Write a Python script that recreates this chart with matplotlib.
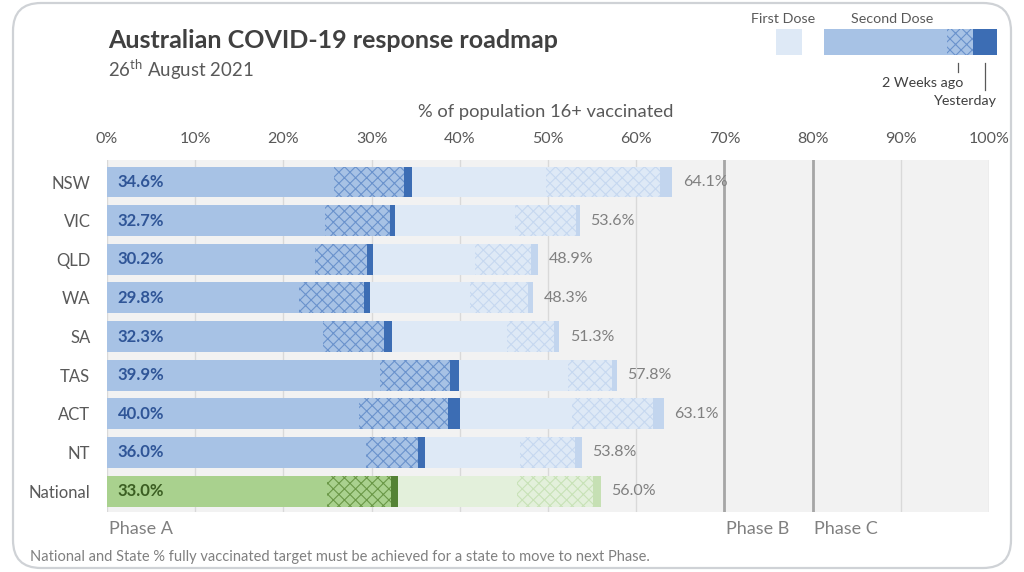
import matplotlib
matplotlib.use("Agg")
import matplotlib.pyplot as plt
from matplotlib.patches import Rectangle, FancyBboxPatch

plt.rcParams['font.family'] = ['Lato', 'DejaVu Sans']
plt.rcParams['mathtext.fontset'] = 'custom'
plt.rcParams['mathtext.rm'] = 'Lato'
plt.rcParams['hatch.linewidth'] = 0.8

# data (% of population 16+)
states = ['NSW', 'VIC', 'QLD', 'WA', 'SA', 'TAS', 'ACT', 'NT', 'National']
second_2wk = [25.7, 24.7, 23.6, 21.8, 24.5, 30.9, 28.6, 29.4, 24.9]
second_yday = [33.7, 32.1, 29.5, 29.1, 31.4, 38.9, 38.7, 35.3, 32.2]
second_now = [34.6, 32.7, 30.2, 29.8, 32.3, 39.9, 40.0, 36.0, 33.0]
first_2wk = [49.8, 46.3, 41.7, 41.2, 45.3, 52.3, 52.7, 46.8, 46.5]
first_yday = [62.7, 53.2, 48.1, 47.7, 50.7, 57.3, 61.9, 53.1, 55.1]
first_now = [64.1, 53.6, 48.9, 48.3, 51.3, 57.8, 63.1, 53.8, 56.0]
xticks = [0, 10, 20, 30, 40, 50, 60, 70, 80, 90, 100]
phases = [('Phase A', 0), ('Phase B', 70), ('Phase C', 80)]

blue = dict(s_base='#a7c2e5', s_hatch='#6a92cc', s_dark='#3c6db4',
            f_base='#dee9f6', f_hatch='#c6d8f0', f_seg='#c2d5ee', txt='#2f5597')
green = dict(s_base='#a9d18e', s_hatch='#6a9847', s_dark='#548235',
             f_base='#e3f0db', f_hatch='#c8e2b7', f_seg='#c6e0b4', txt='#3b5e22')

W, H = 1024, 572
fig = plt.figure(figsize=(W / 100, H / 100), dpi=100)
fig.patch.set_facecolor('white')

# overlay in pixel coordinates for frame + legend
ov = fig.add_axes([0, 0, 1, 1])
ov.set_xlim(0, W)
ov.set_ylim(H, 0)
ov.axis('off')
ov.add_patch(FancyBboxPatch((13, 3), W - 26, H - 7, boxstyle='round,pad=0,rounding_size=28',
                            facecolor='white', edgecolor='#cfd2d6', lw=1.6))

ax = fig.add_axes([107 / W, 1 - 512 / H, (989 - 107) / W, (512 - 160) / H])
ax.set_facecolor('#f2f2f2')
ax.set_xlim(0, 100)
ax.set_ylim(8.54, -0.57)
ax.set_axisbelow(True)
ax.grid(axis='x', color='#d9d9d9', lw=1)
for s in ax.spines.values():
    s.set_visible(False)
ax.xaxis.tick_top()
ax.set_xticks(xticks)
ax.set_xticklabels([f"{v}%" for v in xticks])
ax.tick_params(axis='x', length=0, pad=10, labelsize=11.5, labelcolor='#595959')
ax.set_yticks(range(len(states)))
ax.set_yticklabels(states)
ax.tick_params(axis='y', length=0, pad=12, labelsize=12, labelcolor='#595959')

for x in [70, 80]:
    ax.axvline(x, color='#a6a6a6', lw=2, zorder=1.5)

h = 0.8
for i, st in enumerate(states):
    c = green if st == 'National' else blue
    # first dose
    ax.barh(i, first_2wk[i], height=h, color=c['f_base'], lw=0, zorder=2)
    ax.barh(i, first_yday[i] - first_2wk[i], left=first_2wk[i], height=h, color=c['f_base'],
            edgecolor=c['f_hatch'], hatch='xxx', lw=0, zorder=2)
    ax.barh(i, first_now[i] - first_yday[i], left=first_yday[i], height=h, color=c['f_seg'], lw=0, zorder=2)
    # second dose
    ax.barh(i, second_2wk[i], height=h, color=c['s_base'], lw=0, zorder=3)
    ax.barh(i, second_yday[i] - second_2wk[i], left=second_2wk[i], height=h, color=c['s_base'],
            edgecolor=c['s_hatch'], hatch='xxx', lw=0, zorder=3)
    ax.barh(i, second_now[i] - second_yday[i], left=second_yday[i], height=h, color=c['s_dark'], lw=0, zorder=3)
    ax.text(1.2, i, f"{second_now[i]:.1f}%", va='center', ha='left', fontsize=12,
            fontweight='bold', color=c['txt'], zorder=4)
    ax.text(first_now[i] + 1.2, i, f"{first_now[i]:.1f}%", va='center', ha='left',
            fontsize=11.5, color='#808080', zorder=4)

for name, x in phases:
    ax.text(x + 0.2, 8.97, name, ha='left', va='center', fontsize=13, color='#808080', clip_on=False)

fig.text(546 / W, 1 - 112 / H, '% of population 16+ vaccinated', ha='center', va='center',
         fontsize=13.2, color='#595959')
fig.text(108 / W, 1 - 40 / H, 'Australian COVID-19 response roadmap', ha='left', va='center',
         fontsize=18, fontweight='bold', color='#404040')
fig.text(108 / W, 1 - 70 / H, r'26$^{\mathrm{th}}$ August 2021', ha='left', va='center',
         fontsize=13.4, color='#595959')
fig.text(30 / W, 1 - 557 / H,
         'National and State % fully vaccinated target must be achieved for a state to move to next Phase.',
         ha='left', va='center', fontsize=10.5, color='#808080')

# legend
ov.text(783, 19, 'First Dose', ha='center', va='center', fontsize=10.3, color='#595959')
ov.text(892, 19, 'Second Dose', ha='center', va='center', fontsize=10.3, color='#595959')
ov.add_patch(Rectangle((776, 29), 26, 26, facecolor=blue['f_base'], lw=0))
ov.add_patch(Rectangle((824, 29), 123, 26, facecolor=blue['s_base'], lw=0))
ov.add_patch(Rectangle((947, 29), 26, 26, facecolor=blue['s_base'], edgecolor=blue['s_hatch'],
                       hatch='xxx', lw=0))
ov.add_patch(Rectangle((973, 29), 24, 26, facecolor=blue['s_dark'], lw=0))
ov.plot([958, 958], [63, 72], color='#595959', lw=0.9)
ov.plot([985, 985], [63, 90], color='#595959', lw=0.9)
ov.text(963, 83, '2 Weeks ago', ha='right', va='center', fontsize=10.3, color='#404040')
ov.text(997, 101, 'Yesterday', ha='right', va='center', fontsize=10.3, color='#404040')

fig.savefig('out.png', dpi=100)
